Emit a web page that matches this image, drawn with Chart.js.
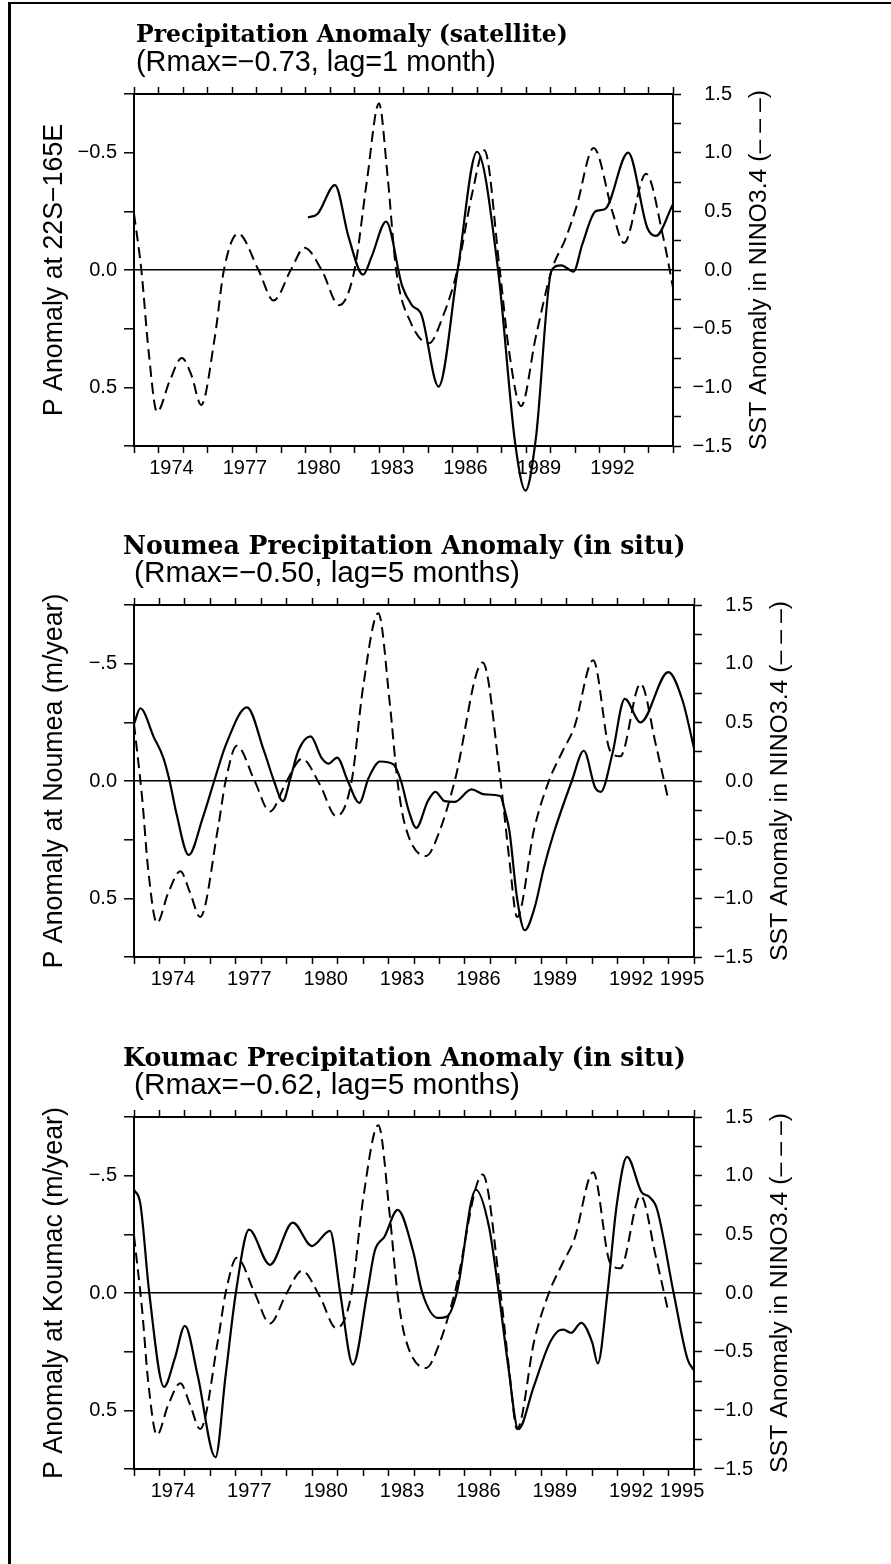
<!DOCTYPE html>
<html>
<head>
<meta charset="utf-8">
<script src="https://cdn.jsdelivr.net/npm/chart.js@4.4.1/dist/chart.umd.min.js"></script>
<style>
  html, body { margin: 0; padding: 0; background: #fff; }
  body { width: 891px; height: 1564px; position: relative; overflow: hidden; }
  .sheet { position: absolute; left: 8px; top: 2px; width: 900px; height: 1570px;
           border-left: 3px solid #000; border-top: 2px solid #000; }
  canvas { position: absolute; left: 0; }
</style>
</head>
<body>
<div class="sheet"></div>
<canvas id="satChart" width="891" height="520" style="top:4px"></canvas>
<canvas id="noumeaChart" width="891" height="520" style="top:515px"></canvas>
<canvas id="koumacChart" width="891" height="520" style="top:1027px"></canvas>
<script>
  // years on the x axis (same for all three panels)
  const yearMin = 1973;
  const yearMax = 1995;
  const xLabelYearsSat = [1974, 1977, 1980, 1983, 1986, 1989, 1992];
  const xLabelYearsSitu = [1974, 1977, 1980, 1983, 1986, 1989, 1992, 1995];

  // tick labels
  const pTickValues = [-0.5, 0, 0.5];
  const pTickTextSat = ['\u22120.5', '0.0', '0.5'];
  const pTickTextSitu = ['\u2212.5', '0.0', '0.5'];
  const sstTickValues = [1.5, 1.0, 0.5, 0, -0.5, -1.0, -1.5];
  const sstTickText = ['1.5', '1.0', '0.5', '0.0', '\u22120.5', '\u22121.0', '\u22121.5'];

  // NINO3.4 SST anomaly, lag 1 month (top panel, dashed)
  const sstLag1Years = [1973.0, 1973.3, 1973.6, 1973.94, 1974.45, 1974.95, 1975.35, 1975.74, 1976.3, 1976.67,
    1977.25, 1978.08, 1978.7, 1979.4, 1979.96, 1980.66, 1981.37, 1982.0, 1982.5, 1983.0,
    1983.35, 1983.7, 1984.3, 1985.04, 1985.6, 1986.2, 1986.8, 1987.3, 1987.93, 1988.3,
    1988.8, 1989.4, 1990.05, 1990.6, 1991.06, 1991.76, 1992.55, 1993.0, 1993.9, 1994.6, 1995.0];
  const sstLag1 = [0.48, 0.0, -0.7, -1.21, -0.95, -0.75, -0.9, -1.15, -0.57, 0.0,
    0.31, 0.0, -0.26, 0.0, 0.19, 0.0, -0.30, 0.0, 0.75, 1.42,
    0.8, 0.0, -0.45, -0.625, -0.4, 0.0, 0.65, 1.02, 0.0, -0.68,
    -1.16, -0.57, 0.0, 0.26, 0.54, 1.04, 0.48, 0.23, 0.82, 0.28, -0.15];

  // NINO3.4 SST anomaly, lag 5 months (middle and bottom panels, dashed)
  const sstLag5Years = [1973.0, 1973.33, 1973.55, 1973.9, 1974.35, 1974.82, 1975.2, 1975.6, 1976.3, 1976.6,
    1977.04, 1977.74, 1978.34, 1979.0, 1979.6, 1980.3, 1980.95, 1981.55, 1982.0, 1982.6,
    1983.05, 1983.35, 1983.64, 1984.47, 1985.0, 1985.6, 1986.7, 1987.4, 1987.75, 1988.05,
    1988.73, 1989.3, 1989.85, 1990.3, 1991.04, 1991.7, 1992.1, 1992.9, 1993.5, 1993.96];
  const sstLag5 = [0.49, -0.17, -0.74, -1.21, -0.95, -0.77, -0.95, -1.16, -0.4, 0.0,
    0.30, 0.0, -0.26, 0.0, 0.19, -0.03, -0.30, 0.0, 0.8, 1.43,
    0.66, 0.0, -0.37, -0.64, -0.43, 0.0, 1.01, 0.0, -0.68, -1.16,
    -0.4, 0.0, 0.26, 0.46, 1.03, 0.26, 0.21, 0.83, 0.31, -0.13];

  // precipitation anomaly, satellite, 22S-165E (solid)
  const satYears = [1980.1, 1980.5, 1981.2, 1981.76, 1982.35, 1982.7, 1983.29, 1983.95, 1984.34, 1984.73,
    1985.43, 1986.21, 1987.0, 1987.86, 1988.56, 1988.98, 1989.4, 1990.05, 1990.44, 1990.94,
    1991.3, 1991.84, 1992.23, 1993.17, 1993.95, 1994.3, 1995.0];
  const satP = [-0.224, -0.24, -0.362, -0.14, 0.02, -0.057, -0.206, 0.07, 0.15, 0.19,
    0.497, 0.0, -0.504, 0.0, 0.74, 0.94, 0.72, 0.0, -0.02, 0.007,
    -0.11, -0.25, -0.26, -0.50, -0.18, -0.145, -0.28];

  // precipitation anomaly at Noumea, m/year (solid)
  const noumeaYears = [1973.0, 1973.25, 1973.78, 1974.15, 1974.4, 1974.67, 1975.15, 1975.7, 1976.15, 1976.62,
    1977.44, 1978.1, 1978.5, 1978.85, 1979.15, 1979.46, 1979.94, 1980.36, 1980.65, 1980.98,
    1981.4, 1981.85, 1982.22, 1982.67, 1983.19, 1983.49, 1983.8, 1984.09, 1984.54, 1984.84,
    1985.21, 1985.59, 1986.26, 1986.78, 1987.38, 1987.6, 1987.75, 1988.05, 1988.35, 1988.73,
    1989.1, 1989.47, 1990.2, 1990.67, 1991.12, 1991.34, 1991.79, 1992.28, 1992.9, 1993.99,
    1994.55, 1995.0];
  const noumeaP = [-0.243, -0.31, -0.186, -0.10, 0.0, 0.14, 0.315, 0.157, 0.0, -0.157,
    -0.314, -0.13, 0.0, 0.086, -0.014, -0.13, -0.19, -0.10, -0.074, -0.10,
    0.0, 0.093, -0.014, -0.083, -0.071, 0.0, 0.13, 0.2, 0.086, 0.046,
    0.086, 0.089, 0.036, 0.057, 0.064, 0.14, 0.214, 0.50, 0.636, 0.543,
    0.371, 0.229, 0.0, -0.129, 0.029, 0.046, -0.114, -0.35, -0.25, -0.464,
    -0.343, -0.14];

  // precipitation anomaly at Koumac, m/year (solid)
  const koumacYears = [1973.0, 1973.25, 1973.6, 1974.18, 1974.6, 1975.0, 1975.5, 1976.2, 1976.6, 1977.0,
    1977.52, 1978.34, 1979.24, 1979.99, 1980.7, 1981.1, 1981.6, 1982.16, 1982.46, 1982.84,
    1983.36, 1983.96, 1984.33, 1984.93, 1985.3, 1985.68, 1986.43, 1986.95, 1987.33, 1987.7,
    1988.1, 1988.7, 1989.3, 1989.65, 1989.87, 1990.17, 1990.57, 1991.0, 1991.22, 1991.6,
    1991.97, 1992.37, 1992.94, 1993.24, 1993.54, 1994.2, 1994.74, 1995.0];
  const koumacP = [-0.44, -0.38, 0.0, 0.40, 0.28, 0.14, 0.35, 0.70, 0.35, 0.0,
    -0.27, -0.12, -0.30, -0.20, -0.265, 0.0, 0.305, 0.0, -0.18, -0.24,
    -0.354, -0.18, 0.0, 0.106, 0.10, 0.0, -0.44, -0.28, 0.0, 0.31,
    0.58, 0.40, 0.22, 0.163, 0.156, 0.17, 0.127, 0.21, 0.30, 0.0,
    -0.38, -0.58, -0.43, -0.41, -0.36, 0.0, 0.28, 0.33];

  const sans = '"Liberation Sans", Arial, sans-serif';
  const serif = '"DejaVu Serif", serif';

  // scale a font so the text takes the given width
  function fitFont(ctx, text, weight, family, width) {
    ctx.font = weight + ' 20px ' + family;
    const size = 20 * width / ctx.measureText(text).width;
    return weight + ' ' + size.toFixed(2) + 'px ' + family;
  }

  // titles and rotated axis titles, drawn at the chart area edges
  const panelText = {
    id: 'panelText',
    afterDraw(chart, args, o) {
      const ctx = chart.ctx;
      const a = chart.chartArea;
      const midY = (a.top + a.bottom) / 2;
      ctx.save();
      ctx.fillStyle = '#000';
      ctx.textBaseline = 'middle';
      ctx.textAlign = 'left';
      ctx.font = fitFont(ctx, o.title, 'bold', serif, o.titleWidth);
      ctx.fillText(o.title, o.titleX, a.top - 58);
      ctx.font = fitFont(ctx, o.subtitle, 'normal', sans, o.subtitleWidth);
      ctx.fillText(o.subtitle, o.subtitleX, a.top - 31);
      ctx.textAlign = 'center';
      ctx.font = fitFont(ctx, 'P Anomaly at Koumac (m/year)', 'normal', sans, 372);
      ctx.translate(55, midY);
      ctx.rotate(-Math.PI / 2);
      ctx.fillText(o.leftTitle, 0, 0);
      ctx.setTransform(1, 0, 0, 1, 0, 0);
      ctx.font = fitFont(ctx, o.rightTitle, 'normal', sans, 360);
      ctx.translate(a.right + 86, midY);
      ctx.rotate(-Math.PI / 2);
      ctx.fillText(o.rightTitle, 0, 0);
      ctx.restore();
    }
  };

  function tickLookup(values, texts) {
    return v => {
      const i = values.findIndex(t => Math.abs(t - v) < 1e-6);
      return i < 0 ? '' : texts[i];
    };
  }

  function makePanel(id, cfg) {
    const pts = (xs, ys) => xs.map((x, i) => ({ x: x, y: ys[i] }));
    const tickFont = { family: sans, size: 20 };
    const rightAxisWidth = 59;
    return new Chart(document.getElementById(id), {
      type: 'line',
      data: {
        datasets: [{
          data: pts(cfg.pYears, cfg.pVals),
          xAxisID: 'x', yAxisID: 'y',
          borderColor: '#000', borderWidth: 2.2,
          pointRadius: 0, cubicInterpolationMode: 'monotone',
          clip: false
        }, {
          data: pts(cfg.sstYears, cfg.sstVals),
          xAxisID: 'x', yAxisID: 'y2',
          borderColor: '#000', borderWidth: 2,
          borderDash: [11, 6],
          pointRadius: 0, cubicInterpolationMode: 'monotone'
        }]
      },
      options: {
        responsive: false,
        animation: false,
        layout: { padding: { left: 0, top: 0, bottom: 0, right: 891 - cfg.right - rightAxisWidth } },
        plugins: {
          legend: { display: false },
          tooltip: { enabled: false },
          panelText: cfg.text
        },
        scales: {
          x: {
            type: 'linear', position: 'bottom', weight: 0,
            min: yearMin, max: yearMax,
            afterFit: s => { s.height = 10; },
            ticks: { display: false, stepSize: 1 },
            grid: { drawOnChartArea: false, tickLength: 7, tickWidth: 1.5, tickColor: '#000' },
            border: { color: '#000', width: 2 }
          },
          xl: {
            type: 'linear', position: 'bottom', weight: 1,
            min: yearMin, max: yearMax,
            afterFit: s => { s.height = 68; },
            afterBuildTicks: s => {
              s.ticks = cfg.labelYears.map(y => ({ value: Math.min(y + 0.53, yearMax - 0.47) }));
            },
            ticks: {
              autoSkip: false, maxRotation: 0, padding: 0, color: '#000', font: tickFont,
              callback: (v, i) => String(cfg.labelYears[i])
            },
            grid: { display: false, drawTicks: false },
            border: { display: false }
          },
          xt: {
            type: 'linear', position: 'top',
            min: yearMin, max: yearMax,
            afterFit: s => { s.height = 90; },
            ticks: { display: false, stepSize: 1 },
            grid: { drawOnChartArea: false, tickLength: 7, tickWidth: 1.5, tickColor: '#000' },
            border: { color: '#000', width: 2 }
          },
          y: {
            type: 'linear', position: 'left', reverse: true,
            min: -0.75, max: 0.75,
            afterFit: s => { s.width = 134; },
            ticks: {
              stepSize: 0.25, autoSkip: false, padding: 7, color: '#000', font: tickFont,
              callback: tickLookup(pTickValues, cfg.pTickText)
            },
            grid: {
              color: c => (c.tick && Math.abs(c.tick.value) < 1e-6) ? '#000' : 'rgba(0,0,0,0)',
              lineWidth: 1.6, tickLength: 10, tickWidth: 1.5, tickColor: '#000'
            },
            border: { color: '#000', width: 2 }
          },
          y2: {
            type: 'linear', position: 'right',
            min: -1.5, max: 1.5,
            afterFit: s => { s.width = rightAxisWidth; },
            ticks: {
              stepSize: 0.25, autoSkip: false, padding: 6, crossAlign: 'far', color: '#000', font: tickFont,
              callback: tickLookup(sstTickValues, sstTickText)
            },
            grid: { drawOnChartArea: false, tickLength: 8, tickWidth: 1.5, tickColor: '#000' },
            border: { color: '#000', width: 2 }
          }
        }
      },
      plugins: [panelText]
    });
  }

  makePanel('satChart', {
    right: 673,
    labelYears: xLabelYearsSat,
    pTickText: pTickTextSat,
    pYears: satYears, pVals: satP,
    sstYears: sstLag1Years, sstVals: sstLag1,
    text: {
      title: 'Precipitation Anomaly (satellite)', titleX: 136, titleWidth: 432,
      subtitle: '(Rmax=\u22120.73, lag=1 month)', subtitleX: 136, subtitleWidth: 360,
      leftTitle: 'P Anomaly at 22S\u2212165E',
      rightTitle: 'SST Anomaly in NINO3.4 (\u2013 \u2013 \u2013)'
    }
  });

  makePanel('noumeaChart', {
    right: 694,
    labelYears: xLabelYearsSitu,
    pTickText: pTickTextSitu,
    pYears: noumeaYears, pVals: noumeaP,
    sstYears: sstLag5Years, sstVals: sstLag5,
    text: {
      title: 'Noumea Precipitation Anomaly (in situ)', titleX: 123, titleWidth: 563,
      subtitle: '(Rmax=\u22120.50, lag=5 months)', subtitleX: 134, subtitleWidth: 386,
      leftTitle: 'P Anomaly at Noumea (m/year)',
      rightTitle: 'SST Anomaly in NINO3.4 (\u2013 \u2013 \u2013)'
    }
  });

  makePanel('koumacChart', {
    right: 694,
    labelYears: xLabelYearsSitu,
    pTickText: pTickTextSitu,
    pYears: koumacYears, pVals: koumacP,
    sstYears: sstLag5Years, sstVals: sstLag5,
    text: {
      title: 'Koumac Precipitation Anomaly (in situ)', titleX: 123, titleWidth: 563,
      subtitle: '(Rmax=\u22120.62, lag=5 months)', subtitleX: 134, subtitleWidth: 386,
      leftTitle: 'P Anomaly at Koumac (m/year)',
      rightTitle: 'SST Anomaly in NINO3.4 (\u2013 \u2013 \u2013)'
    }
  });
</script>
</body>
</html>
